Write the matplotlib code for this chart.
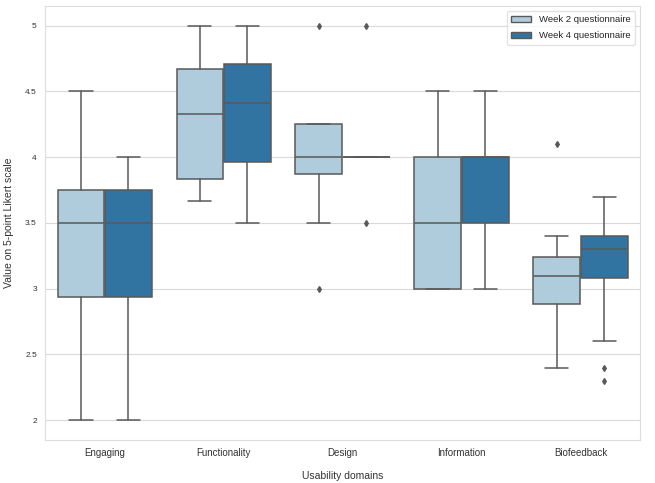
import matplotlib
matplotlib.use('Agg')
import matplotlib.pyplot as plt
import matplotlib.patches as patches
import numpy as np
import seaborn as sns

sns.set_style('whitegrid')
plt.rcParams['font.family'] = ['Liberation Sans', 'DejaVu Sans']

# categories and groups
domains = ['Engaging', 'Functionality', 'Design', 'Information', 'Biofeedback']
groups = ['Week 2 questionnaire', 'Week 4 questionnaire']

# box statistics, one list per group (order = domains)
w2_q1 = [2.94, 3.83, 3.875, 3.0, 2.88]
w2_med = [3.5, 4.33, 4.0, 3.5, 3.10]
w2_q3 = [3.75, 4.67, 4.25, 4.0, 3.24]
w2_lo = [2.0, 3.67, 3.5, 3.0, 2.4]
w2_hi = [4.5, 5.0, 4.25, 4.5, 3.4]
w2_fliers = [[], [], [5.0, 3.0], [], [4.1]]

w4_q1 = [2.94, 3.96, 4.0, 3.5, 3.08]
w4_med = [3.5, 4.41, 4.0, 4.0, 3.30]
w4_q3 = [3.75, 4.71, 4.0, 4.0, 3.40]
w4_lo = [2.0, 3.5, 4.0, 3.0, 2.6]
w4_hi = [4.0, 5.0, 4.0, 4.5, 3.7]
w4_fliers = [[], [], [5.0, 3.5], [], [2.4, 2.3]]

yticks = [2, 2.5, 3, 3.5, 4, 4.5, 5]
ytick_labels = ['2', '2.5', '3', '3.5', '4', '4.5', '5']

pal = sns.color_palette('Paired', 2)
colors = [sns.desaturate(c, 0.75) for c in pal]
line_gray = '#595959'

fig = plt.figure(figsize=(6.55, 4.83), dpi=100)
ax = fig.add_axes([0.069, 0.089, 0.908, 0.899])

def make_stats(q1, med, q3, lo, hi, fl):
    out = []
    for i in range(len(q1)):
        out.append(dict(med=med[i], q1=q1[i], q3=q3[i], whislo=lo[i], whishi=hi[i],
                        fliers=np.array(fl[i])))
    return out

x = np.arange(len(domains))
box_w = 0.4 * 0.98
lw = 1.1
sets = [(w2_q1, w2_med, w2_q3, w2_lo, w2_hi, w2_fliers),
        (w4_q1, w4_med, w4_q3, w4_lo, w4_hi, w4_fliers)]
for gi, s in enumerate(sets):
    stats = make_stats(*s)
    pos = x + (gi - 0.5) * 0.4
    ax.bxp(stats, positions=pos, widths=box_w, patch_artist=True, manage_ticks=False,
           boxprops=dict(facecolor=colors[gi], edgecolor=line_gray, linewidth=lw),
           medianprops=dict(color=line_gray, linewidth=lw),
           whiskerprops=dict(color=line_gray, linewidth=lw),
           capprops=dict(color=line_gray, linewidth=lw),
           flierprops=dict(marker='d', markerfacecolor=line_gray, markeredgecolor=line_gray,
                           markersize=3, linestyle='none'),
           capwidths=box_w / 2)

ax.set_xlim(-0.5, len(domains) - 0.5)
ax.set_ylim(1.85, 5.15)
ax.set_xticks(x)
ax.set_xticklabels(domains, fontsize=7, color='#333333')
ax.set_yticks(yticks)
ax.set_yticklabels(ytick_labels, fontsize=6, color='#333333')
ax.xaxis.grid(False)
ax.yaxis.grid(True, color='#d9d9d9', linewidth=0.8)
for sp in ax.spines.values():
    sp.set_color('#dddddd')
ax.tick_params(axis='both', length=0, pad=6)

ax.set_xlabel('Usability domains', fontsize=7.5, color='#333333', labelpad=9)
ax.set_ylabel('Value on 5-point Likert scale', fontsize=7.5, color='#333333')
ax.yaxis.set_label_coords(-0.052, 0.5)

handles = [patches.Patch(facecolor=colors[i], edgecolor=line_gray, label=groups[i]) for i in range(2)]
leg = ax.legend(handles=handles, loc='upper right', fontsize=6.8, frameon=True,
                borderpad=0.5, handlelength=2.1, labelspacing=0.75)
leg.get_frame().set_edgecolor('#dddddd')

fig.savefig('out.png', dpi=100)
